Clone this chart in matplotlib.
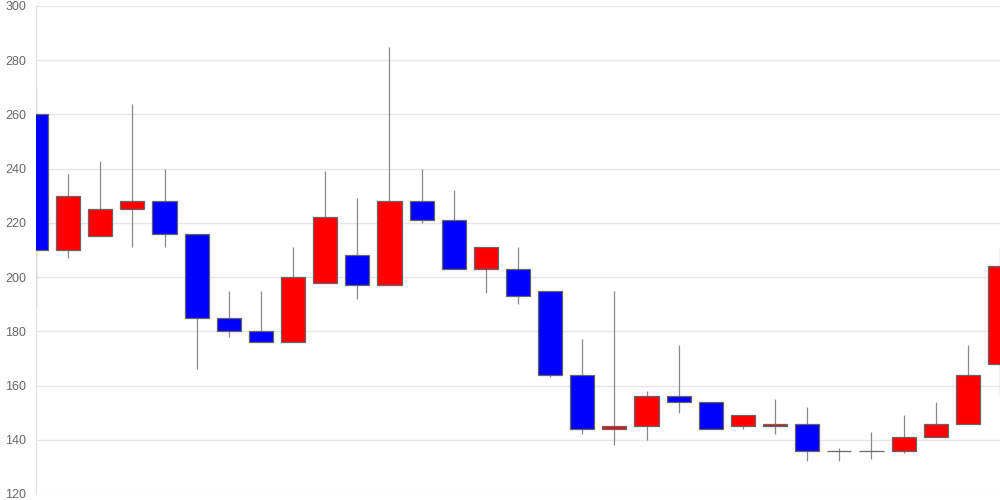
import matplotlib
matplotlib.use("Agg")
import matplotlib.pyplot as plt
import numpy as np

opens  = [260, 210, 215, 225, 228, 216, 185, 180, 176, 198, 208, 197, 228, 221, 203, 203,
          195, 164, 144, 145, 156, 154, 145, 145, 146, 136, 136, 136, 141, 146, 168]
closes = [210, 230, 225, 228, 216, 185, 180, 176, 200, 222, 197, 228, 221, 203, 211, 193,
          164, 144, 145, 156, 154, 144, 149, 146, 136, 136, 136, 141, 146, 164, 204]
highs  = [270, 238, 243, 264, 240, 216, 195, 195, 211, 239, 229, 285, 240, 232, 211, 211,
          195, 177, 195, 158, 175, 154, 149, 155, 152, 137, 143, 149, 154, 175, 211]
lows   = [189, 207, 215, 211, 211, 166, 178, 176, 176, 198, 192, 197, 220, 203, 194, 190,
          163, 142, 138, 140, 150, 144, 144, 142, 132, 132, 133, 135, 141, 146, 157]
y_ticks = [120, 140, 160, 180, 200, 220, 240, 260, 280, 300]

plt.rcParams['font.family'] = ['Liberation Sans', 'DejaVu Sans']

fig = plt.figure(figsize=(10, 5), dpi=100)
ax = fig.add_axes([0.036, 0.012, 0.964, 0.976])

x = np.arange(len(opens))
o = np.array(opens); c = np.array(closes)
colors = ['#ff0000' if cc > oo else ('#0000ff' if cc < oo else '#555555') for oo, cc in zip(o, c)]

ax.vlines(x, lows, highs, color='#888888', linewidth=0.9, zorder=2)
bottoms = np.minimum(o, c)
heights = np.abs(c - o)
ax.bar(x, heights, bottom=bottoms, width=0.75, color=colors, edgecolor='#666666',
       linewidth=0.9, zorder=3)

ax.set_xlim(0, len(opens) - 1)
ax.set_ylim(120, 300)
ax.set_yticks(y_ticks)
ax.set_xticks([])
ax.grid(axis='y', color='#e6e6e6', linewidth=1, zorder=0)
for s in ['top', 'right', 'bottom']:
    ax.spines[s].set_visible(False)
ax.spines['left'].set_color('#dddddd')
ax.tick_params(axis='y', length=0, pad=7, labelsize=9, labelcolor='#666666')
ax.set_axisbelow(True)

fig.savefig('out.png', dpi=100)
